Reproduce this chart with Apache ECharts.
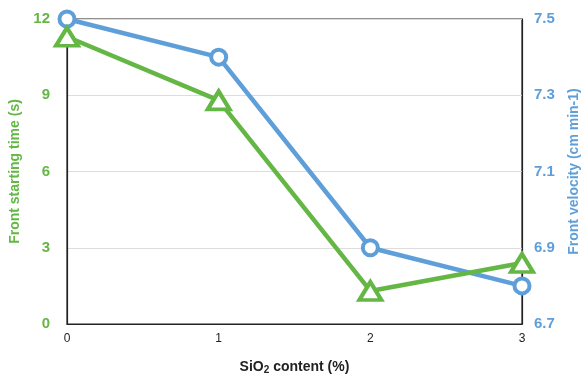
<!DOCTYPE html>
<html><head><meta charset="utf-8">
<script src="https://cdn.jsdelivr.net/npm/echarts@6/dist/echarts.min.js"></script>
<style>html,body{margin:0;padding:0;background:#fff}#c{width:585px;height:374px}</style>
</head><body><div id="c"></div>
<script>
const categories = ['0', '1', '2', '3'];
const startTime = [11.3, 8.8, 1.3, 2.4];
const velocity = [7.5, 7.4, 6.9, 6.8];
const leftTicks = [0, 3, 6, 9, 12];
const rightTicks = [6.7, 6.9, 7.1, 7.3, 7.5];

const GREEN = '#64b744';
const BLUE = '#5e9fd9';
const chart = echarts.init(document.getElementById('c'));
chart.setOption({
  animation: false,
  grid: {left: 67, right: 63, top: 19, bottom: 50, show: true, borderColor: '#222', borderWidth: 1.2,
    outerBoundsMode: 'none', containLabel: false},
  xAxis: {
    type: 'category', data: categories, boundaryGap: false,
    axisLine: {lineStyle: {color: '#222', width: 1.2}},
    axisTick: {show: false},
    axisLabel: {color: '#222', fontSize: 12, margin: 9, fontFamily: 'Liberation Sans'},
    name: '{a|SiO}{s|2}{a| content (%)}', nameLocation: 'middle', nameGap: 36,
    nameTextStyle: {rich: {
      a: {fontSize: 14, fontWeight: 'bold', color: '#222', fontFamily: 'Liberation Sans'},
      s: {fontSize: 10, fontWeight: 'bold', color: '#222', fontFamily: 'Liberation Sans', padding: [5, 0, 0, 0]}
    }}
  },
  yAxis: [{
    type: 'value', min: leftTicks[0], max: leftTicks[leftTicks.length - 1], interval: 3,
    axisLine: {show: true, lineStyle: {color: '#222', width: 1.2}},
    axisTick: {show: false},
    splitLine: {lineStyle: {color: '#ddd'}},
    axisLabel: {color: GREEN, fontSize: 15, fontWeight: 'bold', margin: 17, fontFamily: 'Liberation Sans'},
    name: 'Front starting time (s)', nameLocation: 'middle', nameGap: 37, nameRotate: 90,
    nameTextStyle: {color: GREEN, fontSize: 14, fontWeight: 'bold', fontFamily: 'Liberation Sans'}
  }, {
    type: 'value', min: rightTicks[0], max: rightTicks[rightTicks.length - 1], interval: 0.2,
    axisLine: {show: true, lineStyle: {color: '#222', width: 1.2}},
    axisTick: {show: false},
    splitLine: {show: false},
    axisLabel: {color: BLUE, fontSize: 15, fontWeight: 'bold', margin: 12, fontFamily: 'Liberation Sans',
      formatter: v => v.toFixed(1)},
    name: 'Front velocity (cm min-1)', nameLocation: 'middle', nameGap: 45, nameRotate: 90,
    nameTextStyle: {color: BLUE, fontSize: 14, fontWeight: 'bold', fontFamily: 'Liberation Sans'}
  }],
  series: [{
    type: 'line', yAxisIndex: 1, data: velocity, clip: false,
    symbol: 'circle', symbolSize: 15, z: 2,
    lineStyle: {color: BLUE, width: 4.5},
    itemStyle: {color: '#fff', borderColor: BLUE, borderWidth: 4}
  }, {
    type: 'line', yAxisIndex: 0, data: startTime, clip: false,
    symbol: 'triangle', symbolSize: [22, 18], z: 3,
    lineStyle: {color: GREEN, width: 4.5},
    itemStyle: {color: '#fff', borderColor: GREEN, borderWidth: 4}
  }]
});
</script></body></html>
